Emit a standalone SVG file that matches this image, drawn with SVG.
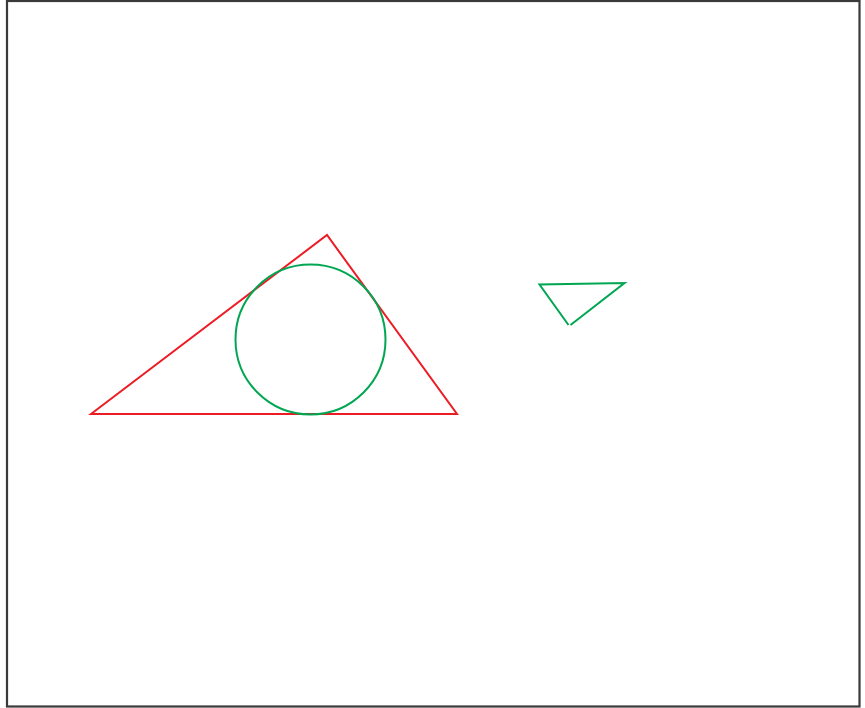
<svg xmlns="http://www.w3.org/2000/svg" width="865" height="708" viewBox="0 0 865 708">
<style>
.frame{fill:#fff;stroke:#3a3a3a;stroke-width:2.2}
.red{fill:none;stroke:#ed1c24;stroke-width:2;stroke-linejoin:miter}
.green{fill:none;stroke:#00a651;stroke-width:2}
</style>
<rect class="frame" x="7" y="1" width="852.5" height="705.5"/>
<g id="triangle"><polygon class="red" points="91,414 327,235 457,414"/></g>
<g id="incircle"><circle class="green" cx="310.5" cy="339.5" r="75"/></g>
<g id="small-triangle"><polyline class="green" points="568.5,325 539.5,284.5 624.5,283 570.5,325"/></g>
</svg>
